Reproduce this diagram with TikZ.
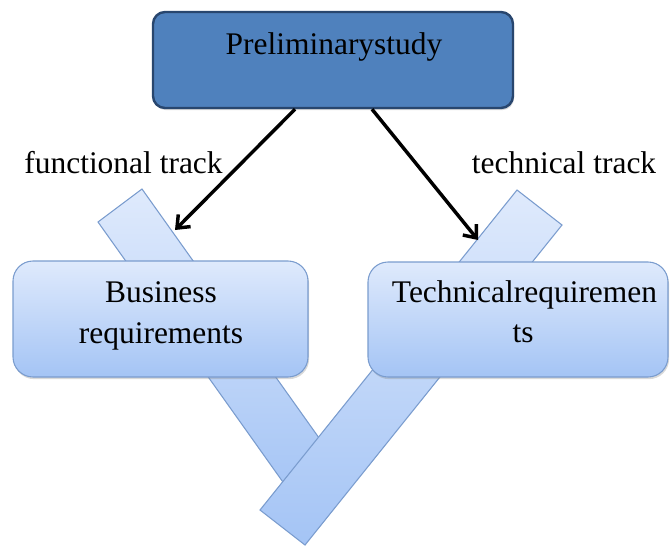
\documentclass[tikz,border=0pt]{standalone}
\usepackage{fontspec}
\setmainfont{Liberation Serif}
\usetikzlibrary{arrows.meta,calc,shadows}

\definecolor{headfill}{RGB}{79,129,189}
\definecolor{headline}{RGB}{40,70,110}
\definecolor{paletop}{RGB}{223,234,252}
\definecolor{palebottom}{RGB}{164,196,245}
\definecolor{paleline}{RGB}{122,156,206}

\tikzset{
  every node/.style={font=\fontsize{23.6pt}{30pt}\selectfont, inner sep=0pt},
  softshadow/.style={drop shadow={opacity=0.3, shadow xshift=0.8pt, shadow yshift=-1.6pt}},
  headbox/.style={draw=headline, line width=1.8pt, fill=headfill,
    rounded corners=9pt, minimum width=270pt, minimum height=72pt, softshadow},
  palebox/.style={draw=paleline, line width=0.8pt, top color=paletop,
    bottom color=palebottom, rounded corners=15pt, softshadow},
  bar/.style={draw=paleline, line width=0.8pt, top color=paletop,
    bottom color=palebottom},
  track/.style={draw=black, line width=2.6pt,
    -{Straight Barb[length=8pt,width=13pt,line width=2.6pt]}},
  caption/.style={anchor=base}
}

\begin{document}
\begin{tikzpicture}[x=0.75pt,y=-0.75pt]
  \useasboundingbox (0,0) rectangle (670,547);

  % the two crossing bars of the V
  \path[bar] (98,222) -- (142,189) -- (339,466) -- (295,499) -- cycle;
  \path[bar] (517,190) -- (562,225) -- (305,545) -- (260,510) -- cycle;

  % boxes
  \node[headbox] (top) at (333,60) {};
  \node[caption] (toptext) at (334,54) {Preliminarystudy};

  \node[palebox, minimum width=221.25pt, minimum height=87pt] (biz) at (160.5,319) {};
  \node[caption] (biz1) at (161,302) {Business};
  \node[caption] (biz2) at (161,343) {requirements};

  \node[palebox, minimum width=225pt, minimum height=86.25pt] (tech) at (518,319.5) {};
  \node[caption] (tech1) at (524.5,302) {Technicalrequiremen};
  \node[caption] (tech2) at (523,342) {ts};

  % track labels
  \node[caption] (flabel) at (123.5,173) {functional track};
  \node[caption] (tlabel) at (564,173) {technical track};

  % arrows onto the bars
  \coordinate (ftip) at (175,230);
  \coordinate (ttip) at (478,240);
  \draw[track] ($(top.south)+(-38,0)$) -- (ftip);
  \draw[track] ($(top.south)+(39,0)$) -- (ttip);
\end{tikzpicture}
\end{document}
